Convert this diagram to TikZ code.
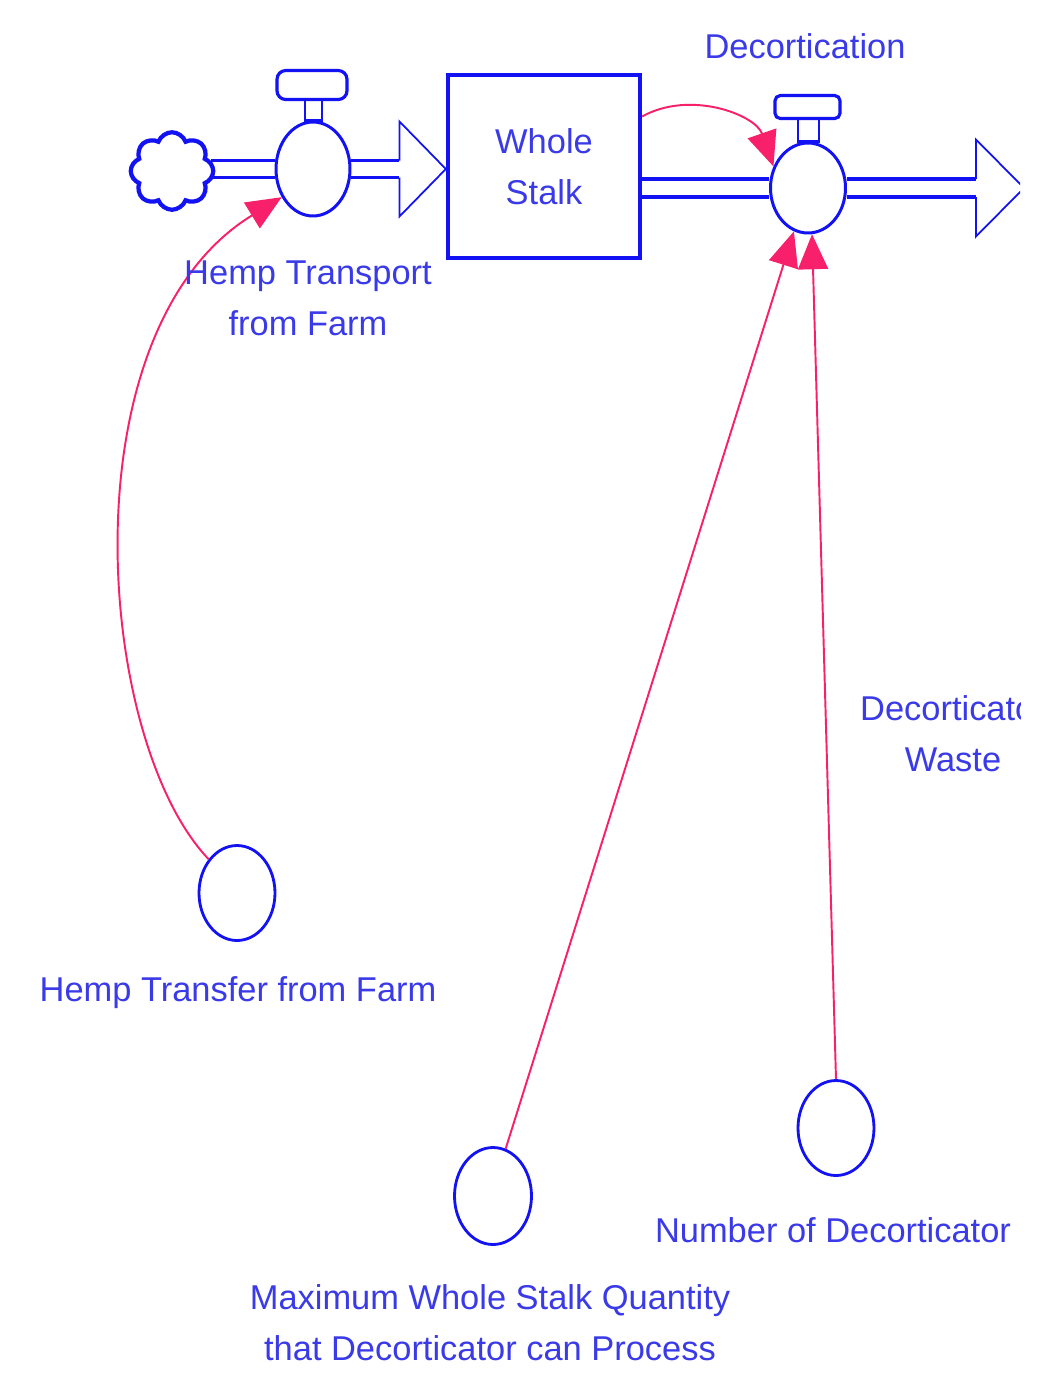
\documentclass[tikz,border=0pt]{standalone}
\usepackage{fontspec}
\setmainfont{Liberation Sans}
\usetikzlibrary{arrows.meta, calc, shapes.geometric, shapes.symbols}
\definecolor{flowblue}{HTML}{1212F2}
\definecolor{txtblue}{HTML}{3A3AE8}
\definecolor{linkpink}{HTML}{F8206A}

\begin{document}
\begin{tikzpicture}[x=0.02cm, y=-0.02cm,
  labeltext/.style={font=\fontsize{19.6}{29}\selectfont, text=txtblue, align=center, inner sep=0pt},
  valve/.style={ellipse, draw=flowblue, line width=1.7pt, fill=white, inner sep=0pt},
  aux/.style={ellipse, draw=flowblue, line width=1.6pt, minimum width=1.52cm, minimum height=1.9cm, inner sep=0pt},
  pipe/.style={flowblue, line width=2.1pt},
  pipehead/.style={flowblue, line width=1pt, line join=miter},
  handle/.style={draw=flowblue, line width=1.8pt, fill=white, rounded corners=5pt},
  link/.style={linkpink, line width=1.1pt, -{Triangle[length=0.7cm, width=0.6cm]}}]

% Background
\fill[white] (0,0) rectangle (1051,1390);

\begin{scope}
\clip (0,0) rectangle (1020,1390);

% =========== Stock and flows ===========
\node[cloud, draw=flowblue, line width=2.4pt, cloud puffs=8, cloud puff arc=140,
      aspect=1.05, minimum width=1.65cm, minimum height=1.55cm, inner sep=0pt] (source) at (172,171) {};

\node[valve, minimum width=1.48cm, minimum height=1.88cm] (transport) at (313,169) {};
\node[valve, minimum width=1.5cm, minimum height=1.8cm] (decort) at (808,188) {};

\node[draw=flowblue, line width=2.5pt, minimum width=3.84cm, minimum height=3.66cm,
      labeltext] (stalk) at (544,166.5) {Whole\\Stalk};

% Valve handles
\draw[flowblue, line width=1.6pt] ($(transport.north)+(-8,0)$) rectangle ++(17,-21);
\draw[handle] ($(transport.north)+(-36,-21)$) rectangle ++(70,-29);
\draw[flowblue, line width=1.6pt] ($(decort.north)+(-10,0)$) rectangle ++(21,-23);
\draw[handle, rounded corners=3pt] ($(decort.north)+(-33,-23)$) rectangle ++(65,-23);

% Inflow pipe: cloud -> valve -> stock
\foreach \dy in {-8.5,8.5}
  \draw[pipe] ($(source.east |- transport.center)+(-4,\dy)$) -- ($(transport.west)+(0,\dy)$);
\foreach \dy in {-8.5,8.5}
  \draw[pipe] ($(transport.east)+(0,\dy)$) -- ++(48,0);
\draw[pipehead] ($(transport.east)+(48,-8.5)$) -- ++(0,-39) -- (stalk.west |- transport.center)
  -- ($(transport.east)+(48,47.5)$) -- ++(0,-39);

% Outflow pipe: stock -> valve -> out
\foreach \dy in {-9,9}
  \draw[pipe] ($(stalk.east |- decort.center)+(0,\dy)$) -- ($(decort.west)+(0,\dy)$);
\foreach \dy in {-9,9}
  \draw[pipe] ($(decort.east)+(0,\dy)$) -- ++(129,0);
\draw[pipehead] ($(decort.east)+(129,-9)$) -- ++(0,-39.5) -- ($(decort.east)+(177,0)$)
  -- ($(decort.east)+(129,48.5)$) -- ++(0,-39.5);

% =========== Auxiliaries ===========
\node[aux] (xfer) at (237,893) {};
\node[aux, minimum width=1.54cm, minimum height=1.94cm] (maxqty) at (493,1196) {};
\node[aux] (number) at (836,1128) {};

% =========== Links ===========
\draw[link] (xfer.130) .. controls (95,740) and (65,330) .. (transport.222);
\draw[link] (stalk.27) to[bend left=50] (decort.148);
\draw[link] (maxqty.75) -- (decort.252);
\draw[link] (number.north) -- (decort.275);

% =========== Labels ===========
\node[labeltext] (transportlabel) at (308,298) {Hemp Transport\\from Farm};
\node[labeltext] (decortlabel) at (805,46) {Decortication};
\node[labeltext] (wastelabel) at (953,734) {Decorticator\\Waste};
\node[labeltext] (xferlabel) at (238,993) {Hemp Transfer from Farm};
\node[labeltext] (numberlabel) at (833,1230) {Number of Decorticator};
\node[labeltext] (maxqtylabel) at (490,1323) {Maximum Whole Stalk Quantity\\that Decorticator can Process};

\end{scope}

\end{tikzpicture}
\end{document}
